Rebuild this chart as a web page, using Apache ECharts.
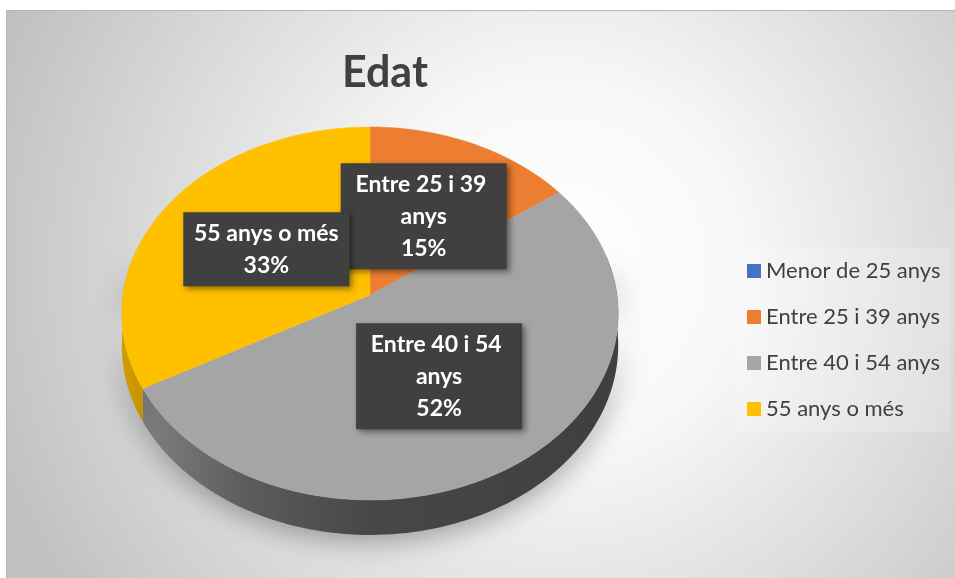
<!DOCTYPE html>
<html><head><meta charset="utf-8">
<script src="https://cdn.jsdelivr.net/npm/echarts@6/dist/echarts.min.js"></script>
<style>html,body{margin:0;padding:0;background:#fff}#c{width:955px;height:578px}</style>
</head><body><div id="c"></div>
<script>
// ---- data ----
const chartTitle = 'Edat';
const categories = ['Menor de 25 anys', 'Entre 25 i 39 anys', 'Entre 40 i 54 anys', '55 anys o més'];
const values = [0, 15, 52, 33];
const colors = ['#4472C4', '#ED7D31', '#A5A5A5', '#FFC000'];

// ---- layout (3D pie projection) ----
const G = { cx: 370, cy: 295, A: 247, B: 184.7, k: 0.099, D: 31.5, x0: 122, x1: 618 };
const FONT = 'Lato, "Open Sans", sans-serif';

const total = values.reduce((a, b) => a + b, 0);
const starts = [];
(function () { let acc = 0; values.forEach(v => { starts.push(acc / total * 360); acc += v; }); })();

function proj(deg, r, drop) {
  const a = deg * Math.PI / 180;
  const u = Math.sin(a) * r, v = -Math.cos(a) * r;
  const den = 1 - G.k * v;
  return [G.cx + G.A * u / den, G.cy + (G.B * v + (drop || 0)) / den];
}
function shade(hex, f) {
  const n = parseInt(hex.slice(1), 16);
  const r = Math.round(((n >> 16) & 255) * f), g = Math.round(((n >> 8) & 255) * f), b = Math.round((n & 255) * f);
  return 'rgb(' + r + ',' + g + ',' + b + ')';
}
function sideFill(hex) {
  return { type: 'linear', x: G.x0, y: 0, x2: G.x1, y2: 0, global: true,
    colorStops: [
      { offset: 0, color: shade(hex, 0.82) },
      { offset: 0.06, color: shade(hex, 0.75) },
      { offset: 0.26, color: shade(hex, 0.55) },
      { offset: 0.5, color: shade(hex, 0.43) },
      { offset: 1, color: shade(hex, 0.38) }
    ] };
}

function makeRender(i) {
  return function (params, api) {
    const v = api.value(0);
    if (!v) return { type: 'group', children: [] };
    const s = starts[i], e = s + v / total * 360;
    const children = [];
    // side wall (front part only)
    const s2 = Math.max(s, 78), e2 = Math.min(e, 282);
    if (e2 > s2) {
      const n = Math.ceil((e2 - s2) / 1.5);
      const pts = [];
      for (let j = 0; j <= n; j++) pts.push(proj(s2 + (e2 - s2) * j / n, 1, 0));
      for (let j = n; j >= 0; j--) pts.push(proj(s2 + (e2 - s2) * j / n, 1, G.D));
      children.push({ type: 'polygon', z2: 0, shape: { points: pts },
        style: { fill: sideFill(colors[i]), shadowBlur: 28, shadowColor: 'rgba(0,0,0,0.35)', shadowOffsetY: 6 } });
    }
    // top face
    const n2 = Math.ceil((e - s) / 1.5);
    const tp = [proj(0, 0)];
    for (let j = 0; j <= n2; j++) tp.push(proj(s + (e - s) * j / n2, 1, 0));
    children.push({ type: 'polygon', z2: 10, shape: { points: tp },
      style: { fill: colors[i], stroke: colors[i], lineWidth: 0.5 } });
    // data label
    const lp = proj((s + e) / 2, 0.5);
    const pct = Math.round(v / total * 100);
    children.push({ type: 'text', z2: 100 + i, x: lp[0], y: lp[1],
      style: {
        text: categories[i] + '\n' + pct + '%',
        align: 'center', verticalAlign: 'middle',
        fill: '#ffffff', fontFamily: FONT, fontWeight: 'bold', fontSize: 23, lineHeight: 32,
        width: 160, overflow: 'break',
        backgroundColor: '#404040', padding: [5, 3, 5, 3],
        shadowBlur: 6, shadowColor: 'rgba(0,0,0,0.45)', shadowOffsetX: 3, shadowOffsetY: 3
      } });
    return { type: 'group', children: children };
  };
}

const series = categories.map((name, i) => ({
  type: 'custom', name: name, coordinateSystem: 'none',
  itemStyle: { color: colors[i] },
  data: [[values[i]]],
  renderItem: makeRender(i),
  silent: true, animation: false
}));

const chart = echarts.init(document.getElementById('c'));
chart.setOption({
  backgroundColor: '#ffffff',
  animation: false,
  title: { text: chartTitle, left: 342, top: 52, padding: 0,
    textStyle: { fontFamily: FONT, fontWeight: 'bold', fontSize: 43, color: '#404040' } },
  legend: {
    orient: 'vertical', left: 735, top: 248, data: categories,
    icon: 'rect', itemWidth: 14, itemHeight: 14, itemGap: 22,
    padding: [11, 10, 11, 12], backgroundColor: 'rgba(255,255,255,0.2)',
    textStyle: { fontFamily: FONT, fontSize: 22, color: '#404040', lineHeight: 24, padding: [0, 0, 0, 0] },
    selectedMode: false
  },
  graphic: [{
    type: 'rect', z: -10, silent: true,
    shape: { x: 6.5, y: 10.5, width: 949, height: 568 },
    style: {
      fill: { type: 'radial', x: 0.58, y: 0.45, r: 1.05,
        colorStops: [{ offset: 0, color: '#ffffff' }, { offset: 0.3, color: '#f8f8f8' }, { offset: 1, color: '#c0c0c0' }] },
      stroke: '#b5b5b5', lineWidth: 1
    }
  }],
  series: series
});
</script>
</body></html>
